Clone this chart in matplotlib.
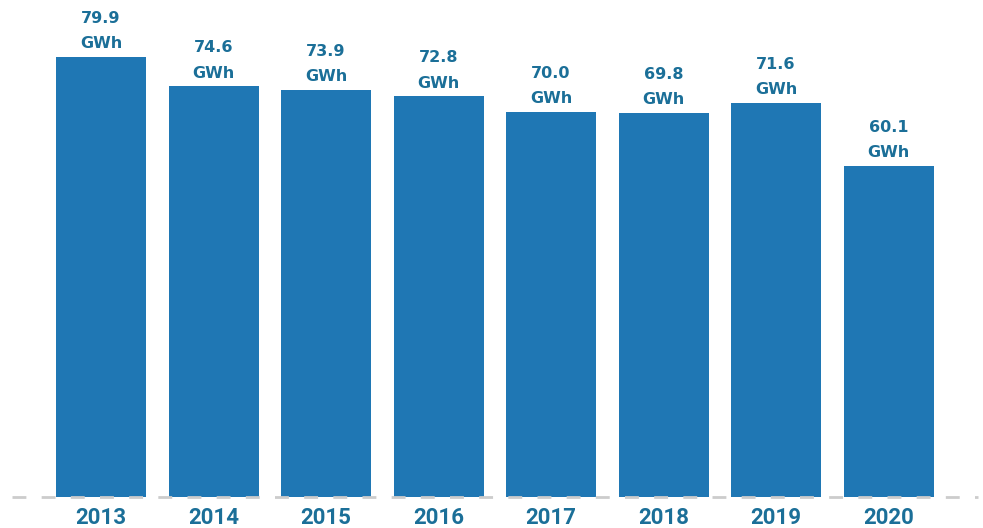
import matplotlib
matplotlib.use("Agg")
import matplotlib.pyplot as plt
import numpy as np

years = ["2013", "2014", "2015", "2016", "2017", "2018", "2019", "2020"]
values = [79.9, 74.6, 73.9, 72.8, 70.0, 69.8, 71.6, 60.1]
unit = "GWh"

bar_color = "#1f77b4"
text_color = "#1b6f98"

fig = plt.figure(figsize=(9.83, 5.28), dpi=100)
ax = fig.add_axes([0.0, 31 / 528, 1.0, 1 - 31 / 528])
x = np.arange(len(years))
ax.bar(x, values, width=0.8, color=bar_color, zorder=2)
ax.set_xlim(-0.898, 7.84)
ax.set_ylim(0, 90.25)
ax.axhline(0, xmin=0.012, xmax=0.995, color="#cccccc", lw=2, ls=(0, (5, 5.5)), zorder=3, clip_on=False)

for xi, v in zip(x, values):
    ax.annotate(f"{v:.1f}\n{unit}", (xi, v), xytext=(0, 4), textcoords="offset points",
                ha="center", va="bottom", fontsize=11.5, fontweight="bold", color=text_color,
                family="DejaVu Sans", linespacing=1.85)

ax.set_xticks(x)
ax.set_xticklabels(years, fontsize=16, fontweight="bold", color=text_color, family="Roboto")
ax.tick_params(axis="x", length=0, pad=7)
ax.set_yticks([])
for s in ax.spines.values():
    s.set_visible(False)

fig.savefig("out.png", dpi=100)
